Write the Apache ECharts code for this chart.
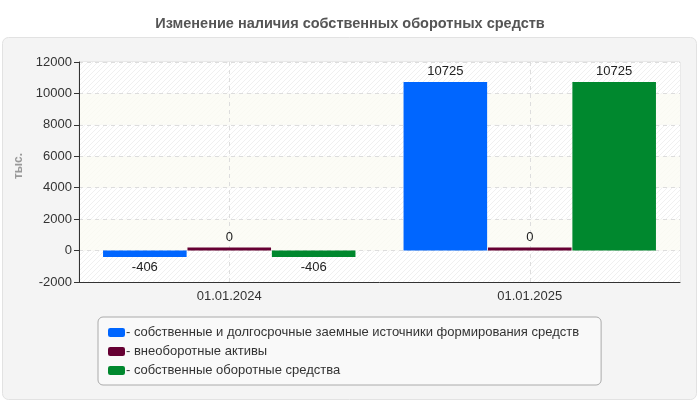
<!DOCTYPE html>
<html><head><meta charset="utf-8">
<script src="https://cdn.jsdelivr.net/npm/echarts@6/dist/echarts.min.js"></script>
<style>html,body{margin:0;padding:0;background:#fff}#c{width:700px;height:400px}</style>
</head><body><div id="c"></div>
<script>
const categories = ['01.01.2024', '01.01.2025'];
const seriesNames = [
  'собственные и долгосрочные заемные источники формирования средств',
  'внеоборотные активы',
  'собственные оборотные средства'
];
const ownLongTerm = [-406, 10725];
const nonCurrent = [0, 0];
const ownWorking = [-406, 10725];
const yTicks = { min: -2000, max: 12000, interval: 2000 };
const colors = ['#0066ff', '#660033', '#00882e'];

function hatch(bg, line) {
  const c = document.createElement('canvas');
  c.width = 5; c.height = 5;
  const g = c.getContext('2d');
  g.fillStyle = bg; g.fillRect(0, 0, 5, 5);
  g.strokeStyle = line; g.lineWidth = 1;
  g.beginPath();
  g.moveTo(0, 5); g.lineTo(5, 0);
  g.moveTo(-1, 1); g.lineTo(1, -1);
  g.moveTo(4, 6); g.lineTo(6, 4);
  g.stroke();
  return { image: c, repeat: 'repeat' };
}

function mk(vals) {
  return vals.map(v => ({ value: v, label: { position: v < 0 ? 'bottom' : 'top' } }));
}

const chart = echarts.init(document.getElementById('c'), null, { renderer: 'canvas' });
const font = 'Arial, "Liberation Sans", sans-serif';
chart.setOption({
  backgroundColor: '#ffffff',
  animation: false,
  textStyle: { fontFamily: font },
  title: {
    text: 'Изменение наличия собственных оборотных средств',
    left: 'center', top: 11,
    textStyle: { fontSize: 14.5, fontWeight: 'bold', color: '#555', fontFamily: font }
  },
  graphic: [{
    type: 'rect', z: -10, silent: true,
    shape: { x: 2.5, y: 37.5, width: 694, height: 362, r: 6 },
    style: { fill: '#f4f4f4', stroke: '#e2e2e2', lineWidth: 1 }
  }],
  grid: { left: 79, right: 20, top: 62, bottom: 118, show: true, borderColor: '#dddddd', borderWidth: 1, backgroundColor: 'transparent' },
  legend: {
    orient: 'vertical', left: 98, top: 317,
    padding: [9, 22, 8, 10], itemGap: 6,
    itemWidth: 17, itemHeight: 9, icon: 'roundRect',
    backgroundColor: '#f9f9f9', borderColor: '#aaaaaa', borderWidth: 1, borderRadius: 5,
    formatter: n => '- ' + n,
    textStyle: { fontSize: 13, color: '#333', padding: [0, 0, 0, -4], fontFamily: font },
    data: seriesNames
  },
  xAxis: {
    type: 'category', data: categories,
    axisLine: { onZero: false, lineStyle: { color: '#333' } },
    axisTick: { alignWithLabel: true, length: 5, lineStyle: { color: '#333' } },
    axisLabel: { fontSize: 13, color: '#333', margin: 8 },
    splitLine: { show: true, alignWithLabel: true, lineStyle: { color: '#dddddd', type: [4, 4] } }
  },
  yAxis: {
    type: 'value', min: yTicks.min, max: yTicks.max, interval: yTicks.interval,
    name: 'тыс.', nameLocation: 'middle', nameGap: 50, nameRotate: 90,
    nameTextStyle: { fontSize: 12, fontWeight: 'bold', color: '#999', padding: [0, 0, 0, 12] },
    axisLine: { show: true, lineStyle: { color: '#333' } },
    axisTick: { show: true, length: 5, lineStyle: { color: '#333' } },
    axisLabel: { fontSize: 13, color: '#333', margin: 7, formatter: v => String(v) },
    splitLine: { show: true, lineStyle: { color: '#dddddd', type: [4, 4] } },
    splitArea: { show: true, areaStyle: { color: [hatch('#ffffff', '#f0f0f0'), hatch('#fcfcf6', '#f9f9f2')] } }
  },
  series: [
    { name: seriesNames[0], type: 'bar', data: mk(ownLongTerm), itemStyle: { color: colors[0] },
      barGap: '1%', barCategoryGap: '16%',
      label: { show: true, fontSize: 13, color: '#222', distance: 4 } },
    { name: seriesNames[1], type: 'bar', data: mk(nonCurrent), itemStyle: { color: colors[1] },
      barMinHeight: 3,
      label: { show: true, fontSize: 13, color: '#222', distance: 4 } },
    { name: seriesNames[2], type: 'bar', data: mk(ownWorking), itemStyle: { color: colors[2] },
      label: { show: true, fontSize: 13, color: '#222', distance: 4 } }
  ]
});
</script></body></html>
